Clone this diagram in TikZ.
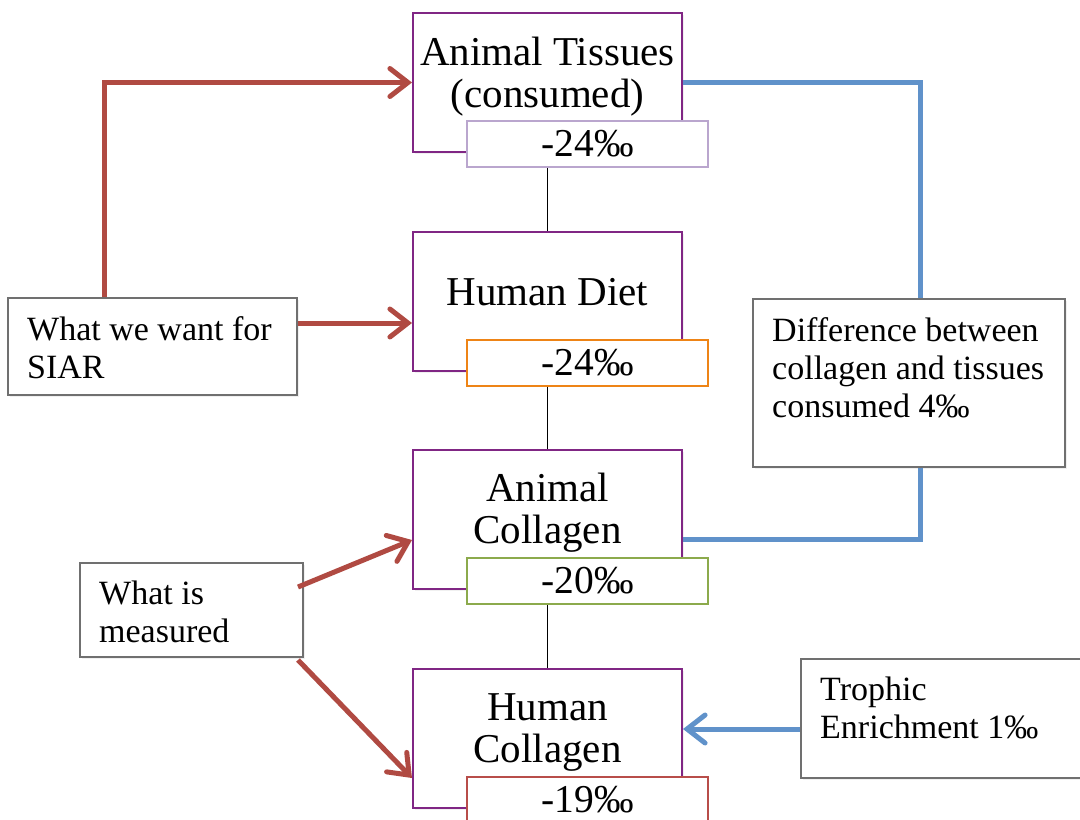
\documentclass[tikz,border=0pt]{standalone}
\usepackage{fontspec}
\setmainfont{Liberation Serif}
\usetikzlibrary{arrows.meta,shadows,calc}

\definecolor{stagepurple}{RGB}{128,38,132}
\definecolor{tagpurple}{RGB}{186,166,206}
\definecolor{tagorange}{RGB}{238,132,22}
\definecolor{taggreen}{RGB}{140,170,76}
\definecolor{tagred}{RGB}{184,78,74}
\definecolor{arrowred}{RGB}{176,74,66}
\definecolor{arrowblue}{RGB}{96,146,202}
\definecolor{notegray}{RGB}{112,112,112}

\begin{document}
\begin{tikzpicture}[x=1pt,y=-1pt,
  softshadow/.style={drop shadow={opacity=0.12,shadow xshift=1.5pt,shadow yshift=-2pt}},
  stage/.style={draw=stagepurple,line width=2pt,fill=white,softshadow,
    minimum width=269pt,minimum height=139pt,inner sep=0pt},
  stagetext/.style={align=center,inner sep=0pt,font=\fontsize{41}{42}\selectfont},
  value/.style={draw=#1,line width=2pt,fill=white,
    minimum width=241pt,minimum height=46pt,inner sep=0pt,
    font=\fontsize{39.5}{40}\selectfont},
  note/.style={draw=notegray,line width=2pt,fill=white,softshadow,inner sep=0pt},
  notetext/.style={anchor=north west,align=left,inner sep=0pt,
    xshift=20pt,yshift=-19pt,font=\fontsize{34}{38}\selectfont},
  link/.style={draw=black,line width=1.5pt},
  redarrow/.style={draw=arrowred,line width=5pt,
    -{Straight Barb[length=18pt,width=28pt,line cap=round]}},
  blueline/.style={draw=arrowblue,line width=5pt},
  bluearrow/.style={draw=arrowblue,line width=5pt,
    -{Straight Barb[length=18pt,width=28pt,line cap=round]}},
  label distance=0pt
]
\useasboundingbox (0,0) rectangle (1080,820);

% central chain of stages with their delta values
\node[stage,label={[stagetext,yshift=6pt]center:Animal Tissues\\(consumed)}] (AT) at (547.5,82.5) {};
\node[value=tagpurple] (vAT) at (587.5,144) {-24‰};
\node[stage,label={[stagetext,yshift=9pt]center:Human Diet}] (HD) at (547.5,301) {};
\node[value=tagorange] (vHD) at (587.5,362.5) {-24‰};
\node[stage,label={[stagetext,yshift=7pt]center:Animal\\Collagen}] (AC) at (547.5,519.5) {};
\node[value=taggreen] (vAC) at (587.5,581) {-20‰};
\node[stage,label={[stagetext,yshift=6pt]center:Human\\Collagen}] (HC) at (547.5,738) {};
\node[value=tagred] (vHC) at (587.5,800) {-19‰};

% annotation boxes
\node[note,minimum width=289pt,minimum height=97pt,
  label={[notetext]north west:What we want for\\SIAR}] (want) at (152.5,346.5) {};
\node[note,minimum width=223pt,minimum height=94pt,
  label={[notetext]north west:What is\\measured}] (meas) at (191.5,610) {};
\node[note,minimum width=312pt,minimum height=168pt,
  label={[notetext]north west:Difference between\\collagen and tissues\\consumed 4‰}] (diff) at (909,383) {};
\node[note,minimum width=289pt,minimum height=119pt,
  label={[notetext]north west:Trophic\\Enrichment 1‰}] (troph) at (945.5,718.5) {};

% links down the chain
\draw[link] (vAT.south -| AT.center) -- (HD.north);
\draw[link] (vHD.south -| HD.center) -- (AC.north);
\draw[link] (vAC.south -| AC.center) -- (HC.north);

% what SIAR needs
\draw[redarrow] ($(want.north west)+(97,0)$) |- (AT.west);
\coordinate (hdIn) at ($(HD.west)+(0,22)$);
\draw[redarrow] (want.east |- hdIn) -- (hdIn);

% what is measured
\draw[redarrow] ($(meas.east)+(-6,-23)$) -- ($(AC.west)+(0,20.5)$);
\draw[redarrow] ($(meas.south east)+(-6,2)$) -- ($(HC.west)+(0,40)$);

% tissue/collagen offset bracket
\draw[blueline] (AT.east) -| ($(diff.north)+(11,0)$);
\draw[blueline] ($(diff.south)+(11,0)$) |- ($(AC.east)+(0,20)$);

% trophic enrichment
\coordinate (hcIn) at ($(HC.east)+(0,-9)$);
\draw[bluearrow] (troph.west |- hcIn) -- (hcIn);
\end{tikzpicture}
\end{document}
